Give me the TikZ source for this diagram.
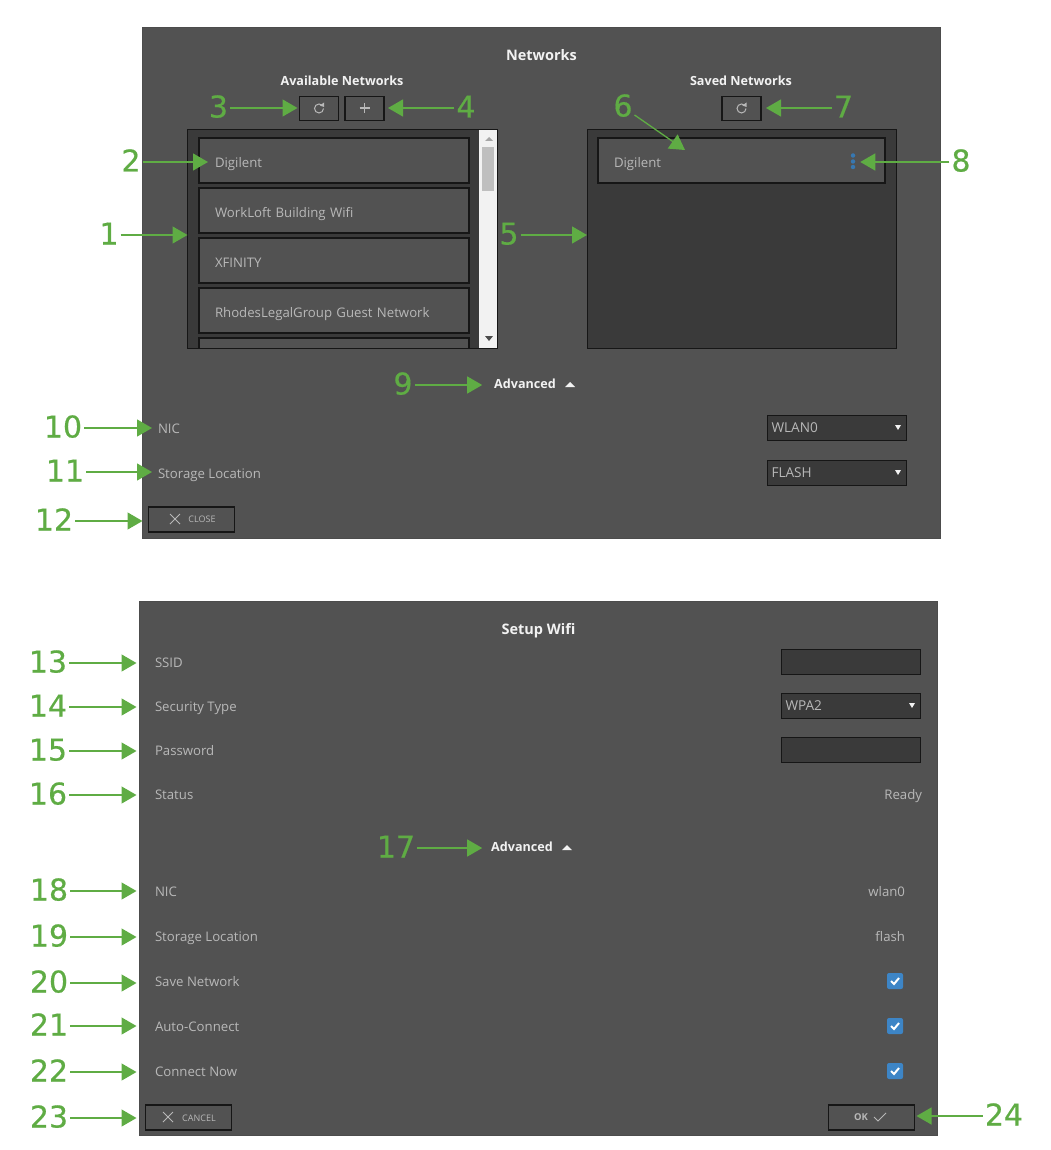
\documentclass[tikz,border=0pt]{standalone}
\usepackage{fontspec}
\setmainfont{Open Sans}
\newfontfamily\numfont[FakeBold=0.5]{DejaVu Sans}
\usetikzlibrary{arrows.meta}

\definecolor{panelgray}{HTML}{525252}
\definecolor{welldark}{HTML}{3A3A3A}
\definecolor{edgedark}{HTML}{161616}
\definecolor{labelgray}{HTML}{B8B8B8}
\definecolor{headwhite}{HTML}{F2F2F2}
\definecolor{callgreen}{HTML}{5FAC44}
\definecolor{tickblue}{HTML}{3D85C6}

\tikzstyle{panel} = [draw=black!70, fill=panelgray, anchor=north west, inner sep=0pt, line width=1pt]
\tikzstyle{well} = [draw=edgedark, fill=welldark, anchor=north west, inner sep=0pt, line width=1pt]
\tikzstyle{item} = [draw=edgedark, fill=panelgray, anchor=north west, line width=1.1pt, inner xsep=16pt,
    inner ysep=0pt, minimum height=45pt, text=labelgray, align=left, text height=14pt, text depth=0pt,
    font=\fontsize{13.2}{15}\selectfont]
\tikzstyle{toolbtn} = [draw=edgedark, fill=panelgray, anchor=north west, line width=1.1pt, inner sep=0pt,
    minimum width=39pt, minimum height=24pt, text=labelgray]
\tikzstyle{footbtn} = [draw=edgedark, fill=panelgray, anchor=north west, line width=1.1pt, inner sep=0pt,
    minimum width=86pt, minimum height=25pt, text=labelgray]
\tikzstyle{field} = [draw=edgedark, fill=welldark, anchor=north west, line width=1pt, inner xsep=4pt, inner ysep=0pt,
    text width=131pt, minimum height=25pt, text=labelgray, align=left, text height=10pt, text depth=0pt,
    font=\fontsize{13.6}{15}\selectfont]
\tikzstyle{rowlabel} = [anchor=west, inner xsep=6pt, inner ysep=0pt, text=labelgray, text height=11pt, text depth=0pt,
    font=\fontsize{13.2}{15}\selectfont]
\tikzstyle{rowvalue} = [anchor=east, inner sep=0pt, text=labelgray, text height=11pt, text depth=0pt,
    font=\fontsize{13.2}{15}\selectfont]
\tikzstyle{heading} = [inner sep=0pt, text=headwhite, text height=11pt, text depth=0pt, font=\fontsize{12.6}{15}\selectfont\bfseries]
\tikzstyle{bigheading} = [inner sep=0pt, text=headwhite, text height=10pt, text depth=0pt, font=\fontsize{14.5}{16}\selectfont\bfseries]
\tikzstyle{btntext} = [text=labelgray, inner sep=0pt, font=\fontsize{9}{10}\selectfont]
\tikzstyle{checkbox} = [fill=tickblue, rounded corners=2pt, minimum size=16pt, inner sep=0pt]
\tikzstyle{menudot} = [circle, fill=tickblue!90!black, minimum size=4.5pt, inner sep=0pt]
\tikzstyle{callnum} = [text=callgreen, inner sep=2pt, text height=22pt, text depth=3pt, font=\fontsize{30}{32}\selectfont\numfont]
\tikzstyle{callout} = [draw=callgreen, line width=1.3pt, -{Triangle[length=15pt,width=17pt]}]

\tikzset{
    refresh/.pic={\draw[labelgray, line width=1pt] (3.2,-3.2) arc (-45:-360:4.5);
        \fill[labelgray] (5,-6) -- (5,-1.5) -- (0.8,-3) -- cycle;},
    cross/.pic={\draw[labelgray, line width=0.9pt] (-5,-5) -- (5,5) (-5,5) -- (5,-5);},
    okmark/.pic={\draw[labelgray, line width=0.9pt] (-6,0) -- (-2,4) -- (6,-4);},
    tick/.pic={\draw[white, line width=2pt] (-4,0) -- (-1,3) -- (4,-3);},
    caret/.pic={\fill[headwhite] (-3,-2) -- (3,-2) -- (0,3) -- cycle;},
    caretup/.pic={\fill[headwhite] (-5,3) -- (5,3) -- (0,-2) -- cycle;}
}

\begin{document}
\begin{tikzpicture}[x=1pt,y=-1pt,every node/.append style={outer sep=0pt}]
\useasboundingbox (0,0) rectangle (1050,1150);

% Networks dialog
\node [panel, minimum width=798pt, minimum height=511pt] (panelA) at (142.5,27.5) {};
\node [bigheading] (titleA) at (541.5,56) {Networks};
\node [heading] (availTitle) at (342,80) {Available Networks};
\node [heading] (savedTitle) at (741,80) {Saved Networks};
\node [toolbtn] (btnReload) at (299.5,96.5) {};
\node [toolbtn] (btnAdd) at (345,96.5) {};
\node [toolbtn] (btnSaved) at (722,96.5) {};
\pic at (btnReload) {refresh};
\pic at (btnSaved) {refresh};
\draw [labelgray, line width=1.1pt] (359.5,108) -- (369.5,108) (364.5,103) -- (364.5,113);

\node [well, minimum width=309.5pt, minimum height=219pt] (listA) at (187.5,129.5) {};
\node [fill=black!5, anchor=north west, inner sep=0pt, minimum width=18pt, minimum height=218pt] (scrollA) at (479,130) {};
\node [fill=black!25, anchor=north west, inner sep=0pt, minimum width=12pt, minimum height=44pt] (thumbA) at (482,147) {};
\fill [black!35] (485,141) -- (493,141) -- (489,137) -- cycle;
\fill [black!70] (485,336) -- (493,336) -- (489,341) -- cycle;
\node [item, text width=238pt] (netDigilent) at (199,138) {Digilent};
\node [item, text width=238pt] (netWorkloft) at (199,188) {WorkLoft Building Wifi};
\node [item, text width=238pt] (netXfinity) at (199,238) {XFINITY};
\node [item, text width=238pt] (netRhodes) at (199,288) {RhodesLegalGroup Guest Network};
\draw [draw=edgedark, fill=panelgray, line width=1.1pt] (199,348) |- (469,338) -- (469,348);

\node [well, minimum width=309pt, minimum height=219pt] (listB) at (587,129.5) {};
\node [item, text width=255pt] (savedDigilent) at (598,138) {Digilent};
\node [menudot] (dotTop) at (853,155.5) {};
\node [menudot] (dotMid) at (853,161.5) {};
\node [menudot] (dotLow) at (853,167) {};

\node [heading] (advA) at (525,383) {Advanced};
\pic at (570,384) {caretup};
\node [rowlabel] (nicA) at (152,428) {NIC};
\node [rowlabel] (storeA) at (152,473) {Storage Location};
\node [field] (fieldNic) at (767.5,415) {WLAN0};
\node [field] (fieldStore) at (767.5,460) {FLASH};
\pic at (898,427) {caret};
\pic at (898,472) {caret};
\node [footbtn] (btnClose) at (148.5,507) {};
\pic at (175,519) {cross};
\node [btntext] (closeText) at (202,519.5) {CLOSE};

% Setup Wifi dialog
\node [panel, minimum width=798pt, minimum height=534pt] (panelB) at (139.5,601.5) {};
\node [bigheading] (titleB) at (538.5,629) {Setup Wifi};
\node [rowlabel] (ssidRow) at (149,662) {SSID};
\node [rowlabel] (secRow) at (149,706) {Security Type};
\node [rowlabel] (passRow) at (149,750) {Password};
\node [rowlabel] (statusRow) at (149,794) {Status};
\node [heading] (advB) at (522,846) {Advanced};
\pic at (567,847) {caretup};
\node [rowlabel] (nicB) at (149,891) {NIC};
\node [rowlabel] (storeB) at (149,936) {Storage Location};
\node [rowlabel] (saveRow) at (149,981) {Save Network};
\node [rowlabel] (autoRow) at (149,1026) {Auto-Connect};
\node [rowlabel] (nowRow) at (149,1071) {Connect Now};
\node [field] (fieldSsid) at (781.5,649) {};
\node [field] (fieldSec) at (781.5,693) {WPA2};
\node [field] (fieldPass) at (781.5,737) {};
\pic at (912,705) {caret};
\node [rowvalue] (valReady) at (922,794) {Ready};
\node [rowvalue] (valNic) at (905,891) {wlan0};
\node [rowvalue] (valStore) at (905,936) {flash};
\node [checkbox] (chkSave) at (895,981) {};
\node [checkbox] (chkAuto) at (895,1026) {};
\node [checkbox] (chkNow) at (895,1071) {};
\pic at (chkSave) {tick};
\pic at (chkAuto) {tick};
\pic at (chkNow) {tick};
\node [footbtn] (btnCancel) at (145.5,1105) {};
\pic at (168,1117) {cross};
\node [btntext] (cancelText) at (199,1118) {CANCEL};
\node [footbtn] (btnOk) at (828.5,1105) {};
\node [btntext, font=\fontsize{9.5}{10}\selectfont\bfseries] (okText) at (861,1117.5) {OK};
\pic at (880,1117) {okmark};

% callout numbers
\node [callnum] (n1) at (109,235) {1};
\node [callnum] (n2) at (131,162) {2};
\node [callnum] (n3) at (218.5,108) {3};
\node [callnum] (n4) at (466,108) {4};
\node [callnum] (n5) at (509,235) {5};
\node [callnum] (n6) at (623,107) {6};
\node [callnum] (n7) at (843.5,108) {7};
\node [callnum] (n8) at (961,162) {8};
\node [callnum] (n9) at (403,385) {9};
\node [callnum] (n10) at (63,428) {10};
\node [callnum] (n11) at (65,472) {11};
\node [callnum] (n12) at (54,521) {12};
\node [callnum] (n13) at (48,663) {13};
\node [callnum] (n14) at (48,707) {14};
\node [callnum] (n15) at (48,751) {15};
\node [callnum] (n16) at (48,795) {16};
\node [callnum] (n17) at (396,848) {17};
\node [callnum] (n18) at (49,891) {18};
\node [callnum] (n19) at (49,937) {19};
\node [callnum] (n20) at (49,983) {20};
\node [callnum] (n21) at (49,1026) {21};
\node [callnum] (n22) at (49,1072) {22};
\node [callnum] (n23) at (49,1118) {23};
\node [callnum] (n24) at (1004,1116) {24};

% callout arrows
\coordinate (tipSix) at (685,150);
\draw [callout] (n1.east) -- (n1.east -| listA.west);
\draw [callout] (n2.east) -- (n2.east -| netDigilent.west) -- ++(9,0);
\draw [callout, shorten >=2pt] (n3.east) -- (n3.east -| btnReload.west);
\draw [callout, shorten >=4pt] (n4.west) -- (n4.west -| btnAdd.east);
\draw [callout] (n5.east) -- (n5.east -| listB.west);
\draw [callout] (n6) -- (tipSix);
\draw [callout, shorten >=5pt] (n7.west) -- (n7.west -| btnSaved.east);
\draw [callout, shorten >=5pt] (n8.west) -- (n8.west -| dotMid.east);
\draw [callout, shorten >=12pt] (n9.east) -- (n9.east -| advA.west);
\draw [callout] (n10.east) -- (n10.east -| nicA.west);
\draw [callout] (n11.east) -- (n11.east -| storeA.west);
\draw [callout] (n12.east) -- (n12.east -| panelA.west);
\draw [callout, shorten >=3pt] (n13.east) -- (n13.east -| panelB.west);
\draw [callout, shorten >=3pt] (n14.east) -- (n14.east -| panelB.west);
\draw [callout, shorten >=3pt] (n15.east) -- (n15.east -| panelB.west);
\draw [callout, shorten >=3pt] (n16.east) -- (n16.east -| panelB.west);
\draw [callout, shorten >=9pt] (n17.east) -- (n17.east -| advB.west);
\draw [callout, shorten >=3pt] (n18.east) -- (n18.east -| panelB.west);
\draw [callout, shorten >=3pt] (n19.east) -- (n19.east -| panelB.west);
\draw [callout, shorten >=3pt] (n20.east) -- (n20.east -| panelB.west);
\draw [callout, shorten >=3pt] (n21.east) -- (n21.east -| panelB.west);
\draw [callout, shorten >=3pt] (n22.east) -- (n22.east -| panelB.west);
\draw [callout, shorten >=3pt] (n23.east) -- (n23.east -| panelB.west);
\draw [callout, shorten >=2pt] (n24.west) -- (n24.west -| btnOk.east);
\end{tikzpicture}
\end{document}
